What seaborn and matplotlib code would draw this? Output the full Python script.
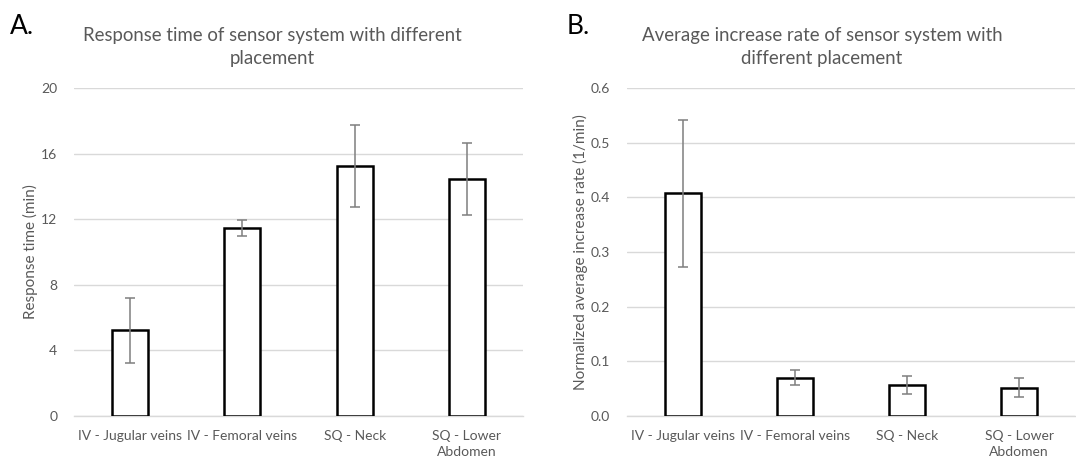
import numpy as np
import pandas as pd
import matplotlib
matplotlib.use("Agg")
import matplotlib.pyplot as plt
import seaborn as sns

# data
placements = ["IV - Jugular veins", "IV - Femoral veins", "SQ - Neck", "SQ - Lower\nAbdomen"]
response_time = [5.23, 11.45, 15.22, 14.47]
response_err = [1.97, 0.48, 2.5, 2.2]
increase_rate = [0.407, 0.070, 0.057, 0.052]
increase_err = [0.134, 0.014, 0.017, 0.018]

sns.set_style("white")
plt.rcParams["font.family"] = ["Lato", "DejaVu Sans"]

text_grey = "#595959"
grid_grey = "#d9d9d9"

fig = plt.figure(figsize=(10.76, 4.59), dpi=100)
ax_a = fig.add_axes([0.0688, 0.0937, 0.4173, 0.7146])
ax_b = fig.add_axes([0.5827, 0.0937, 0.4164, 0.7146])


def draw_panel(ax, vals, errs, ylim, yticks, ylabel, fmt):
    df = pd.DataFrame({"placement": placements, "value": vals})
    sns.barplot(data=df, x="placement", y="value", ax=ax, color="white",
                edgecolor="black", linewidth=1.8, width=0.32, errorbar=None,
                zorder=3)
    ax.errorbar(x=np.arange(len(vals)), y=vals, yerr=errs, fmt="none",
                ecolor="#7f7f7f", elinewidth=1.1, capsize=3.5, capthick=1.1,
                zorder=4)
    ax.set_xlim(-0.5, len(vals) - 0.5)
    ax.set_ylim(*ylim)
    ax.set_yticks(yticks)
    ax.set_yticklabels([fmt.format(t) for t in yticks])
    ax.yaxis.grid(True, color=grid_grey, linewidth=1.0, zorder=0)
    ax.set_axisbelow(True)
    for side in ["top", "right", "left"]:
        ax.spines[side].set_visible(False)
    ax.spines["bottom"].set_color(grid_grey)
    ax.spines["bottom"].set_linewidth(1.0)
    ax.tick_params(axis="both", length=0, labelsize=10, labelcolor=text_grey)
    ax.tick_params(axis="x", pad=10)
    ax.tick_params(axis="y", pad=12)
    for lbl in ax.get_xticklabels():
        lbl.set_linespacing(1.45)
    ax.set_xlabel("")
    ax.set_ylabel(ylabel, fontsize=11, color=text_grey, labelpad=2)


draw_panel(ax_a, response_time, response_err, (0, 20), [0, 4, 8, 12, 16, 20],
           "Response time (min)", "{:.0f}")
draw_panel(ax_b, increase_rate, increase_err, (0, 0.6),
           [0.0, 0.1, 0.2, 0.3, 0.4, 0.5, 0.6],
           "Normalized average increase rate (1/min)", "{:.1f}")

fig.text(0.253, 1 - 27 / 459, "Response time of sensor system with different\nplacement",
         ha="center", va="top", fontsize=13.4, color=text_grey, linespacing=1.45)
fig.text(0.764, 1 - 27 / 459, "Average increase rate of sensor system with\ndifferent placement",
         ha="center", va="top", fontsize=13.4, color=text_grey, linespacing=1.45)

fig.text(10 / 1076, 1 - 14 / 459, "A.", fontsize=19, color="black", va="top")
fig.text(567 / 1076, 1 - 14 / 459, "B.", fontsize=19, color="black", va="top")

fig.savefig("out.png", dpi=100)
